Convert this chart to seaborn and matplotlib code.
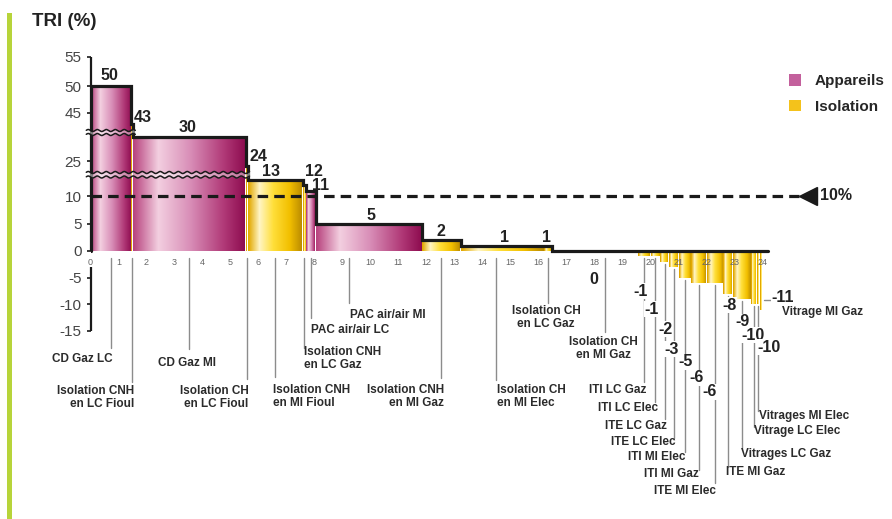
import numpy as np
import matplotlib
matplotlib.use("Agg")
import matplotlib.pyplot as plt
import matplotlib.transforms as mtransforms
from matplotlib.colors import LinearSegmentedColormap
from matplotlib.patches import Patch, Rectangle
import seaborn as sns

# ---------------- data ----------------
names = ["CD Gaz LC", "Isolation CNH\nen LC Fioul", "CD Gaz MI", "Isolation CH\nen LC Fioul",
         "Isolation CNH\nen MI Fioul", "Isolation CNH\nen LC Gaz", "PAC air/air LC", "PAC air/air MI",
         "Isolation CNH\nen MI Gaz", "Isolation CH\nen MI Elec", "Isolation CH\nen LC Gaz",
         "Isolation CH\nen MI Gaz",
         "ITI LC Gaz", "ITI LC Elec", "ITE LC Gaz", "ITE LC Elec", "ITI MI Elec", "ITI MI Gaz",
         "ITE MI Elec", "ITE MI Gaz", "Vitrages LC Gaz", "Vitrage LC Elec", "Vitrages MI Elec",
         "Vitrage MI Gaz"]
groups = ["Appareils", "Isolation", "Appareils", "Isolation", "Isolation", "Isolation",
          "Appareils", "Appareils", "Isolation", "Isolation", "Isolation", "Isolation",
          "Isolation", "Isolation", "Isolation", "Isolation", "Isolation", "Isolation",
          "Isolation", "Isolation", "Isolation", "Isolation", "Isolation", "Isolation"]
tri = [50, 43, 30, 24, 13, 12, 11, 5, 2, 1, 1, 0,
       -1, -1, -2, -3, -5, -6, -6, -8, -9, -10, -10, -11]
potential = [1.45, 0.07, 4.03, 0.07, 1.96, 0.12, 0.34, 3.79, 1.39, 2.98, 0.29, 3.06,
             0.45, 0.35, 0.30, 0.35, 0.45, 0.55, 0.60, 0.35, 0.65, 0.20, 0.10, 0.10]
x_ticks = list(range(0, 25))
y_ticks = [-15, -10, -5, 0, 5, 10, 25, 45, 50, 55]
threshold = 10
legend_labels = ["Appareils", "Isolation"]

# ---------------- style ----------------
W, H = 892, 519
PINK = "#c3609c"
YELLOW = "#f4c21b"
pink_stops = [(0, "#b8447f"), (0.22, "#f3cfe0"), (0.5, "#d98fb8"), (0.8, "#b13a78"), (1, "#8c0a4e")]
yellow_stops = [(0, "#e2a800"), (0.2, "#fff5c4"), (0.45, "#ffdf3a"), (0.75, "#f2bf00"), (1, "#b58600")]
cmaps = {"Appareils": LinearSegmentedColormap.from_list("p", pink_stops),
         "Isolation": LinearSegmentedColormap.from_list("y", yellow_stops)}

# broken y scale (value -> pixel row)
sc_val = [-60, -15, 0, 14, 23, 30, 32, 42, 45, 50, 55, 100]
sc_px = [571, 331, 251, 174, 171, 137, 133, 129, 113, 86, 57, -195]
sc_neg = [-p for p in sc_px]

def fwd(v):
    return np.interp(v, sc_val, sc_neg)

def inv(u):
    return np.interp(u, sc_neg, sc_val)

# leader / label layout (pixels)
lead_frac = [0.5] * 7 + [0.31, 0.5, 0.42, 0.5, 0.62] + [0.5] * 12
lab_ha = ["right", "right", "center", "right", "left", "left", "left", "left", "right", "left",
          "center", "center",
          "right", "right", "right", "right", "right", "right", "right", "left", "left", "left",
          "left", "left"]
lab_dx = [2, 2, -2, 1.5, -2, 0, 0, 1, 3, 1, -2, -2,
          2, 3, 2, 2, 1, 0, 1, -2, -1, 0, 0.5, 19.5]
lab_top = [353, 385, 357, 385, 384, 346, 324, 309, 384, 384, 305, 336,
           384, 402, 420, 436, 451, 468, 485, 466, 448, 425, 410, 306]
line_end = [348, 382, 349, 379, 377, 348, 318, 303, 378, 380, 303, 332,
            382, 402, 419, 438, 452, 470, 483, 467, 448, 427, 411, None]
val_dx = [-1.5, 10.5, -1.5, 11.5, -4, 10, 10, 2, 0, 2.5, -1.7, -12,
          -4, -4, 1, -2, 1, -2, -5, 1, 0, -1, 11, 20.5]
val_dy = [10, 6, 9, 10, 7.5, 13.5, 4.5, 7.5, 9, 8.5, 8.5, 0] + [0] * 12
val_py = [0] * 11 + [280, 291, 309, 329, 349, 362, 378, 392, 305, 322, 335, 347, 298]

sns.set_theme(style="white")
plt.rcParams["font.family"] = ["Liberation Sans", "DejaVu Sans"]

fig = plt.figure(figsize=(W / 100, H / 100), dpi=100)
fig.patch.set_facecolor("white")
X_MAX = 28.2
ax = fig.add_axes([90.5 / W, 1 - 331 / H, 28 * X_MAX / W, (331 - 57) / H])
ax.set_facecolor("none")
ax.set_axisbelow(False)

lefts = np.concatenate([[0], np.cumsum(potential)[:-1]])
rights = lefts + np.array(potential)

# bars with horizontal gradient
grad = np.linspace(0, 1, 256)
for l, w, v, g in zip(lefts, potential, tri, groups):
    if v == 0:
        continue
    bars = ax.bar(l, v, width=w, align="edge", color="none", linewidth=0, zorder=1)
    rgba = cmaps[g](grad)[None, :, :]
    im = ax.imshow(rgba, extent=(l, l + w, min(0, v), max(0, v)), aspect="auto",
                   interpolation="bilinear", zorder=1)
    im.set_clip_path(bars.patches[0])

# outline of the curve
end_x = rights[-1] + 0.2
xs, ys = [0.0], [0.0]
for l, r, v in zip(lefts, rights, tri):
    t = max(v, 0)
    xs += [l, r]
    ys += [t, t]
xs.append(end_x)
ys.append(0.0)
sns.lineplot(x=xs, y=ys, sort=False, estimator=None, color="#1a1a1a", lw=2.3,
             ax=ax, zorder=3, solid_joinstyle="miter")

# threshold line
ax.plot([0, 25.3], [threshold, threshold], color="#1a1a1a", lw=2.3, dashes=(3.3, 1.9),
        clip_on=False, zorder=4)
ax.plot([25.62], [threshold], marker="<", ms=13, color="#1a1a1a", clip_on=False, zorder=4)
ax.text(26.05, threshold, f"{threshold}%", va="center", ha="left", fontsize=11.5,
        weight="bold", color="#222222")

ax.set_yscale("function", functions=(fwd, inv))
ax.set_xlim(0, X_MAX)
ax.set_ylim(-15, 55)

# axes styling
for s in ["top", "right", "left", "bottom"]:
    ax.spines[s].set_visible(False)
ax.spines["bottom"].set_position(("data", 0))
ax.set_xticks(x_ticks)
ax.set_xticklabels([str(t) for t in x_ticks])
ax.tick_params(axis="x", length=0, pad=5, labelsize=6.5, labelcolor="#666666")
ax.set_yticks(y_ticks)
ax.set_yticklabels([str(t) for t in y_ticks])
ax.tick_params(axis="y", direction="out", length=3, width=1.2, color="#1a1a1a",
               labelsize=11, labelcolor="#444444", pad=3.5, left=True)
ax.plot([0, 0], [0, 55], color="#1a1a1a", lw=1.6, clip_on=False, zorder=3,
        solid_capstyle="butt")
ax.plot([0, 0], [-3.0, -15], color="#1a1a1a", lw=1.6, clip_on=False, zorder=3,
        solid_capstyle="butt")

blend = mtransforms.blended_transform_factory(ax.transData, fig.transFigure)

def fy(p):
    return 1 - p / H

# axis break marks
def wavy(x0, x1, p0):
    xx = np.linspace(x0, x1, 300)
    return xx, p0 + 1.0 * np.sin(2 * np.pi * (xx * 28) / 9.0)

for (x0, x1, pa, pb) in [(-0.15, 1.6, 130.5, 134.5), (-0.15, 5.68, 172.5, 177.0)]:
    xa, ya = wavy(x0, x1, pa)
    xb, yb = wavy(x0, x1, pb)
    ax.fill_between(xa, fy(ya), fy(yb), transform=blend, color="white", alpha=0.45,
                    lw=0, zorder=5, clip_on=False)
    ax.plot(xa, fy(ya), transform=blend, color="#1a1a1a", lw=1.1, zorder=6, clip_on=False)
    ax.plot(xb, fy(yb), transform=blend, color="#1a1a1a", lw=1.1, zorder=6, clip_on=False)

fig.canvas.draw()

def prow(x, v):
    return H - ax.transData.transform((x, v))[1]

LINE_C = "#8c8c8c"
for i, (l, w, v) in enumerate(zip(lefts, potential, tri)):
    lx = l + lead_frac[i] * w
    if line_end[i] is not None:
        y0 = 258 if v >= 0 else prow(lx, v) + 2
        ax.plot([lx, lx], [fy(y0), fy(line_end[i])], transform=blend, color=LINE_C,
                lw=1.0, clip_on=False, zorder=2)
        anchor = lx
    else:
        anchor = l + w
        ax.plot([anchor + 1 / 28, anchor + 9 / 28], [fy(300), fy(300)], transform=blend,
                color=LINE_C, lw=1.0, clip_on=False, zorder=2)
    ax.annotate(names[i], xy=(anchor, fy(lab_top[i])), xycoords=blend,
                xytext=(lab_dx[i], 0), textcoords="offset pixels", ha=lab_ha[i], va="top",
                fontsize=8.5, weight="bold", color="#2b2b2b", linespacing=1.15,
                annotation_clip=False, zorder=7)
    if v > 0:
        ax.annotate(str(v), xy=(l + w / 2, v), xycoords="data",
                    xytext=(val_dx[i], val_dy[i]), textcoords="offset pixels",
                    ha="center", va="center", fontsize=11.5, weight="bold", color="#222222",
                    annotation_clip=False, zorder=7)
    else:
        ax.annotate(str(v), xy=(anchor, fy(val_py[i])), xycoords=blend,
                    xytext=(val_dx[i], 0), textcoords="offset pixels",
                    ha="center", va="center", fontsize=11.5, weight="bold", color="#222222",
                    annotation_clip=False, zorder=8,
                    bbox=dict(fc="white", ec="none", pad=0.3))

# legend
handles = [Patch(facecolor=PINK, edgecolor="none"), Patch(facecolor=YELLOW, edgecolor="none")]
fig.legend(handles, legend_labels, loc="upper left", bbox_to_anchor=(789 / W, 1 - 74 / H),
           frameon=False, prop={"weight": "bold", "size": 11}, handlelength=0.8,
           handleheight=0.8, handletextpad=0.9, labelspacing=0.75, borderpad=0,
           borderaxespad=0)

# title and green side bar
fig.text(32 / W, 1 - 22 / H, "TRI (%)", ha="left", va="center", fontsize=13.5,
         weight="bold", color="#222222")
fig.add_artist(Rectangle((7 / W, 0), 5 / W, 1 - 13 / H, transform=fig.transFigure,
                         color="#b7d43a", lw=0))

fig.savefig("out.png", dpi=100)
